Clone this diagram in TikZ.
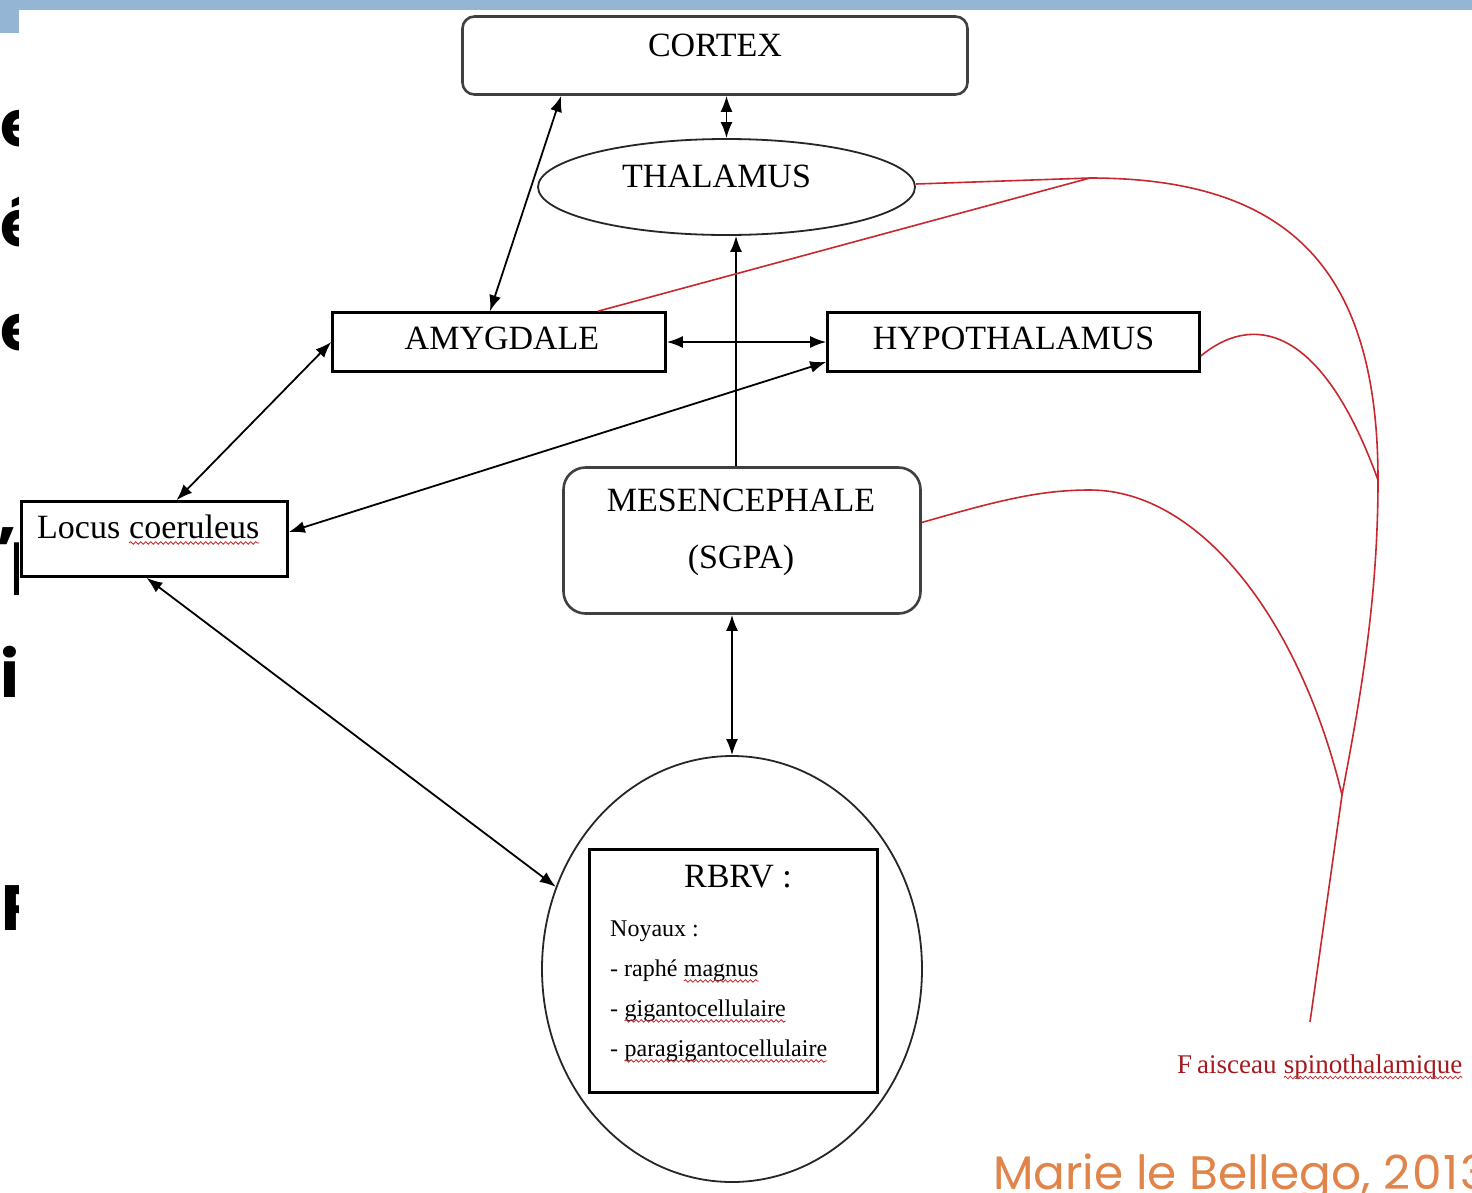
\documentclass[tikz,border=0pt]{standalone}
\usepackage{fontspec}
\setmainfont{Liberation Serif}
\newfontfamily\slidefont{Poppins}
\usepackage{tikz}
\usetikzlibrary{shapes,arrows.meta,decorations.pathmorphing}
\definecolor{spinered}{RGB}{200,40,45}
\definecolor{faisred}{RGB}{165,25,30}
\definecolor{barblue}{RGB}{149,181,212}
\definecolor{creditorange}{RGB}{224,132,74}
\newcommand\wavy[1]{\tikz[baseline=(w.base)]{\node[inner sep=0pt,outer sep=0pt] (w) {#1};\draw[spinered,line width=0.8pt,decorate,decoration={snake,amplitude=1.3pt,segment length=5pt}] ([yshift=-4pt]w.base west) -- ([yshift=-4pt]w.base east);}}

\begin{document}
\begin{tikzpicture}[x=1pt,y=-1pt,>={Latex[length=16pt,width=12pt]},
  box/.style={draw,line width=2.6pt,inner sep=0pt},
  rbox/.style={draw=black!75,line width=2.6pt,rounded corners=#1,inner sep=0pt},
  oval/.style={draw=black!85,ellipse,line width=1.8pt,inner sep=0pt},
  txt/.style={font=\fontsize{34}{40}\selectfont,inner sep=0pt},
  small/.style={font=\fontsize{24}{40}\selectfont,inner sep=0pt},
  link/.style={line width=1.8pt,<->},
  tract/.style={draw=spinered,line width=1.6pt}]
\useasboundingbox (0,0) rectangle (1472,1192);
\fill[barblue] (0,0) rectangle (1472,10);
\fill[barblue] (0,0) rectangle (19,33);
\foreach \ch/\xx/\yy in {e/0/146,é/0/246,e/0/350,’/-4/572,p/10/578,i/0/697,R/1/930}
  \node[font=\slidefont\bfseries\fontsize{64}{70}\selectfont,anchor=base west,inner sep=0pt] at (\xx,\yy) {\ch};
\fill[white] (19,10) rectangle (1472,1192);

\node[rbox=12pt,minimum width=505pt,minimum height=78pt,label={[txt,yshift=10pt]center:CORTEX}] (cortex) at (715,55.5) {};
\node[oval,minimum width=377pt,minimum height=96pt,label={[txt,xshift=-10pt,yshift=11pt]center:THALAMUS}] (thal) at (726.5,187) {};
\node[box,minimum width=333pt,minimum height=59pt,label={[txt,xshift=3pt,yshift=4pt]center:AMYGDALE}] (amyg) at (499,342) {};
\node[box,minimum width=372pt,minimum height=59pt,label={[txt,yshift=4pt]center:HYPOTHALAMUS}] (hypo) at (1013.5,342) {};
\node[box,minimum width=266pt,minimum height=75pt,label={[txt,xshift=-6pt,yshift=9pt]center:Locus \wavy{coeruleus}}] (locus) at (154.5,539) {};
\node[rbox=22pt,minimum width=357pt,minimum height=146pt,label={[txt,font=\fontsize{34}{57}\selectfont,align=center,xshift=-1pt,yshift=8pt]center:MESENCEPHALE\\(SGPA)}] (mesen) at (742,540.5) {};
\node[oval,minimum width=380pt,minimum height=426pt] (rbrv) at (732,969) {};
\node[box,minimum width=288pt,minimum height=243pt] (noyaux) at (733.5,971) {};
\node[txt] (rbrvtitle) at (738,877) {RBRV :};
\node[small,anchor=north west,align=left] (list) at (610,921) {Noyaux :\\- raphé \wavy{magnus}\\- \wavy{gigantocellulaire}\\- \wavy{paragigantocellulaire}};

\draw[link] (thal.north) -- (cortex.south -| thal.north);
\draw[link] ([xshift=100pt]cortex.south west) -- ([xshift=-9pt]amyg.north);
\draw[link] (amyg.east) -- (hypo.west);
\draw[link] (amyg.west) -- ([xshift=22pt]locus.north);
\draw[link] ([yshift=-20pt]hypo.west) -- ([yshift=7pt]locus.east);
\draw[line width=1.8pt,->] ([xshift=-6pt]mesen.north) -- ([xshift=-6pt]mesen.north |- thal.south);
\draw[link] (mesen.south -| rbrv.north) -- (rbrv.north);
\draw[link] ([xshift=-8pt]locus.south) -- (rbrv.155);

\node[font=\fontsize{27}{30}\selectfont,text=faisred,anchor=west,inner sep=0pt] (fais) at (1177,1067) {F\kern5pt aisceau \wavy{spinothalamique}};
\coordinate (fork) at (1090,178);
\coordinate (join) at (1378,480);
\coordinate (merge) at (1342,795);
\coordinate (tail) at (1310,1022);
\draw[tract] ([yshift=3pt]thal.east) -- (fork) .. controls (1290,178) and (1378,270) .. (join) .. controls (1378,600) and (1360,700) .. (merge) -- (tail);
\draw[tract] ([xshift=99pt]amyg.north) -- (fork);
\draw[tract] ([yshift=-14pt]hypo.east) .. controls (1250,315) and (1320,320) .. (join);
\draw[tract] ([yshift=18pt]mesen.east) .. controls (1000,500) and (1040,490) .. (1090,490) .. controls (1200,490) and (1300,620) .. (merge);

\node[font=\slidefont\fontsize{47}{50}\selectfont,text=creditorange,anchor=base west,inner sep=0pt] (credit) at (993,1189) {Marie le Bellego, 2\kern2pt0\kern2pt1\kern2pt3};
\end{tikzpicture}
\end{document}
